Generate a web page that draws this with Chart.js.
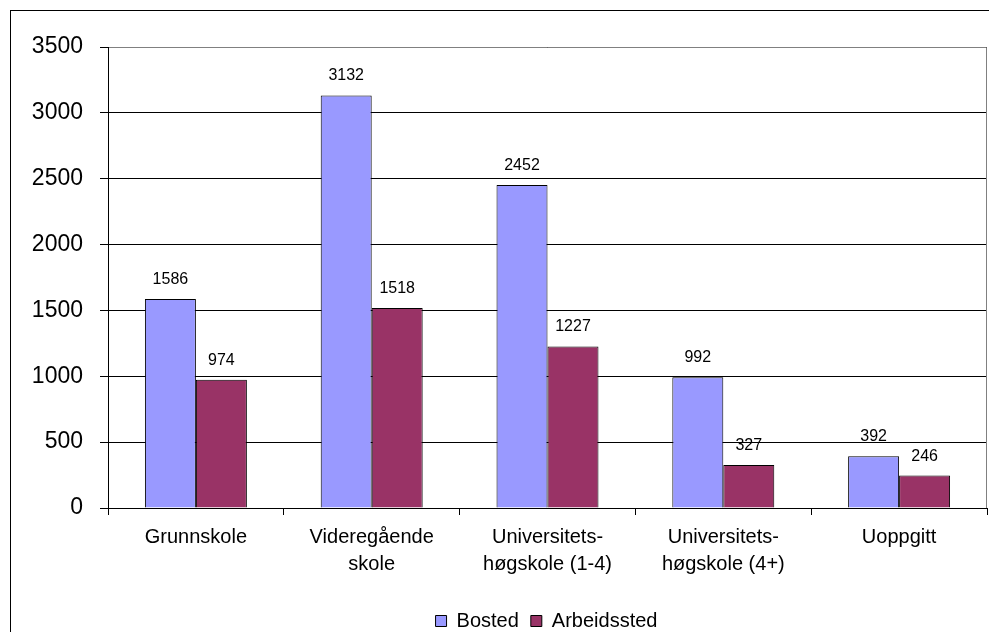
<!DOCTYPE html>
<html>
<head>
<meta charset="utf-8">
<script src="https://cdn.jsdelivr.net/npm/chart.js@4.4.0/dist/chart.umd.min.js"></script>
<style>
  body { margin: 0; background: #fff; }
  canvas { display: block; }
</style>
</head>
<body>
<canvas id="eduChart" width="989" height="632"></canvas>
<script>
// data
const categories = [
    'Grunnskole',
    ['Videregående', 'skole'],
    ['Universitets-', 'høgskole (1-4)'],
    ['Universitets-', 'høgskole (4+)'],
    'Uoppgitt'
];
const bosted = [1586, 3132, 2452, 992, 392];
const arbeidssted = [974, 1518, 1227, 327, 246];
const yTicks = [0, 500, 1000, 1500, 2000, 2500, 3000, 3500];

const FONT = "'Liberation Sans', Arial, sans-serif";

// outer frame + gray plot border
const framePlugin = {
    id: 'frame',
    afterLayout(chart) {
        // legend sits off-centre in the original (frame is wider than the picture)
        const lg = chart.legend;
        lg.left += 53;
        lg.right += 53;
        lg.top += 9;
        lg.bottom += 9;
    },
    beforeDraw(chart) {
        const ctx = chart.ctx;
        ctx.save();
        ctx.fillStyle = '#fff';
        ctx.fillRect(0, 0, chart.width, chart.height);
        ctx.strokeStyle = '#000';
        ctx.lineWidth = 1;
        ctx.strokeRect(10.5, 10.5, chart.width + 20, chart.height + 20);
        ctx.restore();
    },
    afterDraw(chart) {
        const ctx = chart.ctx;
        const a = chart.chartArea;
        ctx.save();
        ctx.strokeStyle = '#808080';
        ctx.lineWidth = 1;
        ctx.beginPath();
        ctx.moveTo(a.left + 1, Math.round(a.top) + 0.5);
        ctx.lineTo(Math.round(a.right) - 0.5, Math.round(a.top) + 0.5);
        ctx.lineTo(Math.round(a.right) - 0.5, a.bottom);
        ctx.stroke();
        ctx.restore();
    }
};

// value labels above bars
const valueLabels = {
    id: 'valueLabels',
    afterDatasetsDraw(chart) {
        const ctx = chart.ctx;
        ctx.save();
        ctx.font = '16px ' + FONT;
        ctx.fillStyle = '#000';
        ctx.textAlign = 'center';
        ctx.textBaseline = 'alphabetic';
        chart.data.datasets.forEach((ds, i) => {
            chart.getDatasetMeta(i).data.forEach((bar, j) => {
                ctx.fillText(ds.data[j], bar.x, bar.y - 15);
            });
        });
        ctx.restore();
    }
};

new Chart(document.getElementById('eduChart'), {
    type: 'bar',
    data: {
        labels: categories,
        datasets: [
            {
                label: 'Bosted',
                data: bosted,
                backgroundColor: '#9999FF',
                borderColor: '#000',
                borderWidth: 1
            },
            {
                label: 'Arbeidssted',
                data: arbeidssted,
                backgroundColor: '#993366',
                borderColor: '#000',
                borderWidth: 1
            }
        ]
    },
    options: {
        responsive: false,
        animation: false,
        devicePixelRatio: 1,
        layout: { padding: { top: 47, right: 2, left: 0, bottom: 0 } },
        datasets: {
            bar: { categoryPercentage: 0.58, barPercentage: 1 }
        },
        plugins: {
            tooltip: { enabled: false },
            legend: {
                position: 'bottom',
                labels: {
                    boxWidth: 11,
                    boxHeight: 11,
                    padding: 12,
                    color: '#000',
                    font: { family: FONT, size: 20 }
                }
            }
        },
        scales: {
            x: {
                grid: {
                    drawOnChartArea: false,
                    color: '#000',
                    tickLength: 7,
                    tickColor: '#000'
                },
                border: { color: '#000' },
                ticks: {
                    color: '#000',
                    padding: 9,
                    maxRotation: 0,
                    autoSkip: false,
                    font: { family: FONT, size: 20, lineHeight: 1.35 }
                },
                afterFit(scale) { scale.height = 82; }
            },
            y: {
                min: 0,
                max: 3500,
                afterBuildTicks(scale) {
                    scale.ticks = yTicks.map(v => ({ value: v }));
                },
                grid: {
                    color: '#000',
                    tickLength: 8,
                    tickColor: '#000'
                },
                border: { color: '#000' },
                ticks: {
                    color: '#000',
                    padding: 17,
                    font: { family: FONT, size: 23 },
                    callback: (v) => String(v)
                },
                afterFit(scale) { scale.width = 108; }
            }
        }
    },
    plugins: [framePlugin, valueLabels]
});
</script>
</body>
</html>
